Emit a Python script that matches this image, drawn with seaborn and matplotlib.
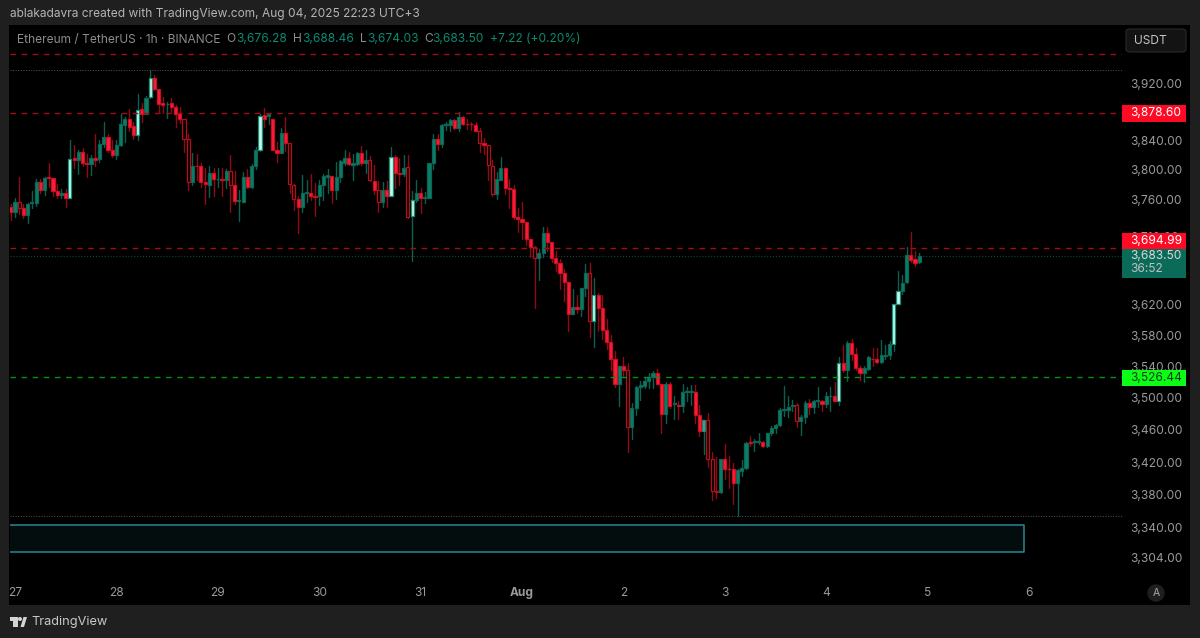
import numpy as np
import pandas as pd
import matplotlib
matplotlib.use("Agg")
import matplotlib.pyplot as plt
from matplotlib.patches import Rectangle, FancyBboxPatch, Ellipse, Polygon
import seaborn as sns

W, H = 1200, 638

# ETHUSDT 1h candles (first candle is Jul 26 23:00)
opens = [
    3749,3743,3757,3748,3739,3755,3755,3783,3772,3790,
    3789,3771,3766,3769,3762,3816,3814,3825,3810,3808,
    3817,3815,3836,3845,3827,3821,3835,3862,3870,3861,
    3848,3884,3878,3901,3928,3913,3893,3891,3893,3887,
    3879,3870,3842,3784,3806,3805,3783,3780,3796,3787,
    3787,3786,3798,3779,3758,3757,3790,3777,3806,3827,
    3876,3875,3871,3828,3824,3851,3837,3780,3760,3749,
    3768,3769,3764,3764,3779,3791,3792,3773,3790,3810,
    3816,3807,3808,3824,3809,3814,3785,3772,3756,3773,
    3764,3818,3796,3794,3804,3737,3759,3769,3762,3762,
    3809,3842,3836,3862,3862,3869,3858,3873,3864,3864,
    3862,3854,3837,3834,3806,3767,3786,3803,3775,3774,
    3736,3733,3729,3706,3696,3681,3688,3714,3702,3681,
    3674,3662,3650,3608,3617,3614,3641,3662,3599,3632,
    3615,3587,3571,3549,3517,3540,3536,3464,3487,3514,
    3515,3522,3527,3532,3518,3480,3518,3492,3491,3490,
    3508,3508,3508,3479,3459,3472,3424,3384,3383,3424,
    3412,3411,3394,3409,3413,3445,3445,3445,3445,3440,
    3456,3462,3466,3485,3485,3490,3491,3471,3476,3494,
    3489,3496,3496,3492,3502,3503,3496,3545,3536,3570,
    3556,3538,3532,3537,3550,3549,3546,3553,3554,3569,
    3620,3638,3649,3685,3680,3676.28,
]
highs = [
    3754,3762,3791,3754,3755,3771,3787,3787,3791,3809,
    3789,3781,3774,3774,3841,3834,3827,3830,3822,3820,
    3849,3841,3867,3850,3841,3841,3878,3873,3885,3866,
    3905,3893,3903,3940,3933,3913,3901,3894,3900,3890,
    3887,3870,3850,3823,3822,3809,3802,3805,3803,3802,
    3802,3801,3820,3798,3772,3797,3801,3808,3832,3878,
    3886,3878,3871,3839,3858,3873,3837,3781,3765,3793,
    3786,3795,3782,3786,3794,3801,3792,3811,3814,3827,
    3825,3822,3825,3833,3827,3819,3807,3785,3784,3785,
    3831,3820,3816,3820,3820,3771,3786,3775,3770,3809,
    3849,3849,3864,3866,3870,3870,3880,3875,3871,3866,
    3866,3858,3844,3834,3814,3797,3818,3803,3787,3780,
    3748,3757,3729,3706,3697,3693,3723,3722,3702,3691,
    3680,3667,3650,3640,3633,3642,3673,3674,3655,3635,
    3632,3601,3580,3560,3541,3552,3544,3493,3515,3521,
    3527,3531,3534,3537,3518,3520,3520,3503,3496,3517,
    3514,3516,3516,3491,3472,3481,3433,3426,3424,3442,
    3428,3419,3412,3423,3445,3452,3449,3456,3446,3456,
    3465,3467,3487,3515,3503,3498,3493,3479,3496,3499,
    3497,3514,3497,3508,3514,3520,3552,3568,3572,3575,
    3563,3540,3540,3553,3563,3563,3574,3567,3572,3620,
    3664,3659,3696,3716,3691,3688.46,
]
lows = [
    3732,3736,3740,3735,3728,3748,3751,3768,3766,3777,
    3764,3762,3762,3749,3762,3803,3795,3805,3790,3793,
    3805,3811,3832,3825,3818,3815,3833,3839,3854,3843,
    3841,3866,3877,3900,3911,3879,3879,3872,3880,3859,
    3865,3825,3772,3780,3786,3777,3753,3763,3765,3777,
    3765,3776,3743,3754,3730,3756,3775,3776,3801,3826,
    3859,3863,3827,3811,3823,3826,3769,3746,3714,3743,
    3756,3759,3738,3752,3759,3768,3755,3760,3784,3807,
    3807,3786,3807,3807,3796,3785,3767,3743,3749,3749,
    3764,3776,3779,3792,3735,3677,3756,3741,3755,3762,
    3801,3828,3831,3855,3854,3856,3854,3862,3856,3855,
    3854,3825,3822,3786,3764,3760,3786,3767,3748,3733,
    3716,3707,3699,3682,3616,3652,3682,3691,3676,3664,
    3640,3624,3585,3607,3609,3605,3631,3578,3565,3585,
    3575,3562,3536,3514,3490,3527,3433,3449,3478,3497,
    3513,3513,3513,3517,3456,3469,3487,3474,3474,3482,
    3496,3491,3468,3452,3430,3414,3373,3376,3382,3399,
    3388,3368,3354,3403,3412,3440,3434,3442,3438,3439,
    3454,3456,3465,3477,3476,3483,3464,3454,3468,3480,
    3481,3489,3484,3489,3483,3496,3491,3533,3522,3548,
    3536,3523,3520,3535,3541,3544,3544,3549,3550,3560,
    3620,3634,3648,3676,3670,3674.03,
]
closes = [
    3743,3757,3748,3739,3754,3756,3783,3772,3789,3789,
    3771,3766,3769,3762,3815,3814,3825,3809,3808,3817,
    3814,3836,3845,3827,3820,3835,3863,3870,3860,3848,
    3883,3877,3900,3928,3913,3892,3890,3892,3887,3877,
    3870,3842,3784,3806,3805,3784,3781,3796,3787,3788,
    3786,3798,3779,3758,3759,3790,3777,3806,3827,3875,
    3871,3877,3828,3824,3851,3837,3781,3760,3749,3769,
    3770,3764,3763,3780,3792,3793,3773,3790,3812,3816,
    3808,3809,3824,3809,3814,3786,3772,3756,3773,3765,
    3818,3796,3795,3803,3736,3759,3769,3762,3763,3809,
    3842,3836,3862,3863,3869,3858,3873,3863,3863,3863,
    3854,3837,3834,3807,3767,3787,3803,3775,3774,3736,
    3733,3729,3707,3696,3681,3688,3714,3703,3681,3674,
    3662,3650,3608,3617,3614,3642,3662,3599,3632,3615,
    3587,3571,3549,3517,3541,3536,3464,3487,3514,3516,
    3522,3527,3532,3518,3480,3518,3490,3493,3490,3508,
    3509,3509,3479,3459,3472,3424,3384,3383,3424,3412,
    3411,3394,3410,3413,3444,3444,3446,3446,3440,3456,
    3462,3466,3485,3486,3489,3491,3471,3476,3494,3489,
    3496,3497,3492,3502,3503,3496,3545,3536,3570,3556,
    3538,3532,3538,3552,3549,3546,3554,3554,3569,3620,
    3638,3648,3685,3679,3675,3683.50,
]
# t = teal, b = bright mint, m = mid teal, r = red, h = hollow red
kinds = list(
    "rthrtttrtr" "rrtrbrtrrt" "rttrrtttrr" "brtbrrrtrr" "rhhtrrrtrt"
    "rthrttrttb" "rtrrtrhhrt" "trrtttrttt" "rttrthrhtr" "brrthbtrtt"
    "trtttrtrrr" "rhrhhttrrr" "rrrrhttrrr" "rrrtrtthbr" "rrrrtrhttt"
    "tttrrtrtrt" "ttrrmhhhtr" "rrtttrttrt" "tttttthttr" "ttrttrbrtr"
    "rrttrrtttb" "bttrrt"
)
hours = np.arange(-1, 215)

price_ticks = [3920, 3840, 3800, 3760, 3710, 3620, 3580, 3540,
               3500, 3460, 3420, 3380, 3340, 3304]
day_ticks = [0, 24, 48, 72, 96, 120, 144, 168, 192, 216, 240]
day_labels = ["27", "28", "29", "30", "31", "Aug", "2", "3", "4", "5", "6"]

resist_levels = [3962.7, 3878.60, 3694.99]
support_level = 3526.44
last_price = 3683.50
range_high, range_low = 3940, 3354
zone_top, zone_bottom = 3343, 3310.4
zone_end = 238.8

BG = "#1f1f1f"
GREY = "#9a9a9a"
TEAL_TXT = "#0b8a72"
FS = 8.6

sns.set_theme(style="dark", rc={"axes.facecolor": "black", "figure.facecolor": BG})
plt.rcParams["font.family"] = ["Inter", "DejaVu Sans"]

fig = plt.figure(figsize=(W / 100, H / 100), dpi=100)
fig.patch.set_facecolor(BG)


def px_rect(x0, y0, x1, y1, **kw):
    r = Rectangle((x0 / W, 1 - y1 / H), (x1 - x0) / W, (y1 - y0) / H,
                  transform=fig.transFigure, **kw)
    fig.add_artist(r)
    return r


def px_text(x, y, s, **kw):
    kw.setdefault("va", "center")
    return fig.text(x / W, 1 - y / H, s, **kw)


def px_circle(x, y, r, **kw):
    e = Ellipse((x / W, 1 - y / H), 2 * r / W, 2 * r / H, transform=fig.transFigure, **kw)
    fig.add_artist(e)
    return e


# black pane behind everything
px_rect(9, 25, 1190, 605, facecolor="black", edgecolor="none", zorder=-5)

ax = fig.add_axes([10 / W, 1 - 580 / H, 1112 / W, 555 / H])
ax.set_facecolor("black")
ax.set_yscale("log")

# wicks through seaborn, one short line per candle
wicks = pd.DataFrame({
    "hour": np.tile(hours, 2),
    "price": lows + highs,
    "candle": np.tile(hours, 2),
    "side": ["up" if k in "tbm" else "down" for k in kinds] * 2,
})
sns.lineplot(data=wicks, x="hour", y="price", units="candle", estimator=None,
             hue="side", palette={"up": "#0a5f4f", "down": "#8f0a16"},
             linewidth=1.0, legend=False, sort=False, ax=ax, zorder=2)

# bodies
styles = {
    "t": ("#0d7f68", "#0a6654"),
    "b": ("#c8f8ec", "#17907a"),
    "m": ("#35a892", "#1c8a76"),
    "r": ("#fb2039", "#cc0d22"),
    "h": ("#000000", "#b80e1c"),
}
o = np.array(opens)
c = np.array(closes)
for kind, (face, edge) in styles.items():
    m = np.array([k == kind for k in kinds])
    ax.bar(hours[m], np.abs(c - o)[m], bottom=np.minimum(o, c)[m], width=0.74,
           color=face, edgecolor=edge, linewidth=0.9, zorder=3)

# levels
for lvl in resist_levels:
    ax.axhline(lvl, color="#a00c18", lw=1.0, dashes=(4, 4), zorder=4)
ax.axhline(support_level, color="#0a8f12", lw=1.0, dashes=(4, 4), zorder=4)
ax.axhline(last_price, color="#0b4a3e", lw=0.8, ls=":", zorder=1)
ax.axhline(range_high, color="#555555", lw=0.7, ls=":", zorder=1)
ax.axhline(range_low, color="#555555", lw=0.7, ls=":", zorder=1)

# demand zone
ax.fill_between([-1.18, zone_end], zone_bottom, zone_top, facecolor="#040d0e",
                edgecolor="none", zorder=1)
ax.plot([-1.18, zone_end, zone_end, -1.18], [zone_top, zone_top, zone_bottom, zone_bottom],
        color="#2b8794", lw=1.1, zorder=2)

ax.set_xlim(-1.18, 262)
ax.set_ylim(3277.5, 4004)
ax.minorticks_off()
ax.set_xlabel("")
ax.set_ylabel("")
ax.grid(False)
sns.despine(ax=ax, left=True, bottom=True, top=True, right=True)

ax.yaxis.tick_right()
ax.set_yticks(price_ticks)
ax.set_yticklabels([f"{p:,.2f}" for p in price_ticks], fontsize=FS, color=GREY)
ax.tick_params(axis="y", length=0, pad=6)
ax.set_xticks(day_ticks)
ax.set_xticklabels(day_labels, fontsize=FS, color=GREY)
ax.tick_params(axis="x", length=0, pad=5)
for lab in ax.get_xticklabels():
    if lab.get_text() == "Aug":
        lab.set_fontweight("bold")

# price badges on the axis
Z = 10
px_rect(1122, 105, 1186, 122, facecolor="#ff0a24", edgecolor="none", zorder=Z)
px_text(1130.5, 113.5, "3,878.60", color="white", fontsize=FS, zorder=Z + 1)
px_rect(1122, 249, 1186, 278, facecolor="#0b6b59", edgecolor="none", zorder=Z)
px_text(1130.5, 256, "3,683.50", color="#d8d8d8", fontsize=FS, zorder=Z + 1)
px_text(1130.5, 269, "36:52", color="#c0c0c0", fontsize=FS, zorder=Z + 1)
px_rect(1122, 233, 1186, 249, facecolor="#ff0a24", edgecolor="none", zorder=Z)
px_text(1130.5, 241, "3,694.99", color="white", fontsize=FS, zorder=Z + 1)
px_rect(1122, 370, 1186, 386, facecolor="#0aff14", edgecolor="none", zorder=Z)
px_text(1130.5, 378, "3,526.44", color="#0c3a10", fontsize=FS, zorder=Z + 1)

# USDT button
fig.add_artist(FancyBboxPatch((1126 / W, 1 - 52 / H), 60 / W, 23 / H,
                              boxstyle="round,pad=0,rounding_size=0.004",
                              transform=fig.transFigure, facecolor="#131313",
                              edgecolor="#2a2a2a", lw=0.8, zorder=Z))
px_text(1134, 41, "USDT", color="#c4c4c4", fontsize=FS, zorder=Z + 1)

# auto-scale button
px_circle(1156, 593, 8.7, facecolor="#1f1f1f", edgecolor="none", zorder=Z)
px_text(1156, 593, "A", color="#a8a8a8", fontsize=7.5, ha="center", zorder=Z + 1)

# header text
px_text(10, 14, "ablakadavra created with TradingView.com, Aug 04, 2025 22:23 UTC+3",
        color="#b4b4b4", fontsize=FS)
px_text(17, 39.5, "Ethereum / TetherUS · 1h · BINANCE", color="#8c8c8c", fontsize=FS)
for x, s, col in [
    (226, "O", "#8c8c8c"), (236, "3,676.28", TEAL_TXT),
    (293, "H", "#8c8c8c"), (302, "3,688.46", TEAL_TXT),
    (360, "L", "#8c8c8c"), (367, "3,674.03", TEAL_TXT),
    (424, "C", "#8c8c8c"), (432, "3,683.50", TEAL_TXT),
    (490, "+7.22 (+0.20%)", TEAL_TXT),
]:
    px_text(x, 39.5, s, color=col, fontsize=FS)

# footer logo
px_rect(9.5, 617, 17.5, 621, facecolor="#d4d4d4", edgecolor="none", zorder=Z)
px_rect(13, 617, 17.5, 627, facecolor="#d4d4d4", edgecolor="none", zorder=Z)
px_circle(20, 619, 2, facecolor="#d4d4d4", edgecolor="none", zorder=Z)
fig.add_artist(Polygon([(20.5 / W, 1 - 627 / H), (24 / W, 1 - 627 / H),
                        (27 / W, 1 - 617 / H), (23.5 / W, 1 - 617 / H)],
                       closed=True, transform=fig.transFigure, facecolor="#d4d4d4",
                       edgecolor="none", zorder=Z))
px_text(31, 622, "TradingView", color="#c8c8c8", fontsize=9.2)

fig.savefig("out.png", dpi=100, facecolor=fig.get_facecolor())
